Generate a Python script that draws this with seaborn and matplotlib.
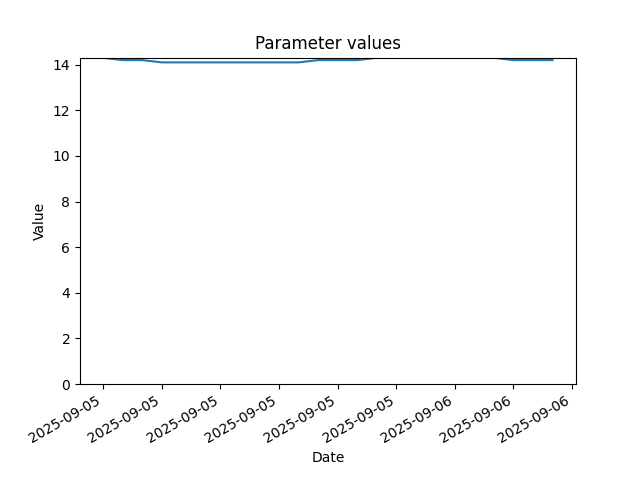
import pandas as pd
import matplotlib
matplotlib.use('Agg')
import matplotlib.pyplot as plt
import matplotlib.dates as mdates
import seaborn as sns

# Hourly readings, 2025-09-05 05:00 to 2025-09-06 05:00
timestamps = pd.date_range('2025-09-05 05:00', '2025-09-06 05:00', freq='h')
values = [14.3, 14.3, 14.2, 14.2, 14.1, 14.1, 14.1, 14.1, 14.1, 14.1, 14.1, 14.1,
          14.2, 14.2, 14.2, 14.3, 14.3, 14.3, 14.3, 14.3, 14.3, 14.3, 14.2, 14.2, 14.2]

df = pd.DataFrame({'Date': timestamps, 'Value': values})

fig, ax = plt.subplots(figsize=(6.4, 4.8), dpi=100)
sns.lineplot(data=df, x='Date', y='Value', ax=ax, color='tab:blue', linewidth=1.5)
ax.set_xlim(pd.Timestamp('2025-09-05 04:49'), pd.Timestamp('2025-09-06 06:12'))
ax.set_ylim(bottom=0)
ax.xaxis.set_major_locator(mdates.HourLocator(byhour=range(0, 24, 3)))
ax.xaxis.set_major_formatter(mdates.DateFormatter('%Y-%m-%d'))
ax.set_title('Parameter values')
ax.set_xlabel('Date')
ax.set_ylabel('Value')
fig.autofmt_xdate()
plt.savefig('out.png')
plt.close()
